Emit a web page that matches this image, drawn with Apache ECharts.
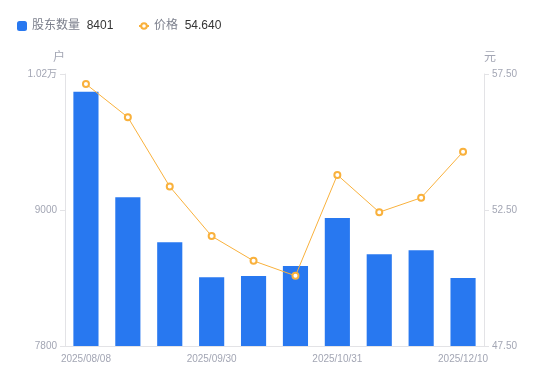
<!DOCTYPE html>
<html>
<head>
<meta charset="utf-8">
<script src="https://cdn.jsdelivr.net/npm/echarts@6/dist/echarts.min.js"></script>
<style>
html,body{margin:0;padding:0;background:#fff;}
#main{width:550px;height:381px;}
</style>
</head>
<body>
<div id="main"></div>
<script>
var categories = ['2025/08/08','2025/08/20','2025/08/29','2025/09/30','2025/10/10','2025/10/20','2025/10/31','2025/11/10','2025/11/20','2025/12/10'];
var holders = [10044, 9112, 8715, 8406, 8418, 8506, 8929, 8609, 8644, 8401];
var prices = [57.13, 55.91, 53.36, 51.54, 50.63, 50.08, 53.79, 52.42, 52.95, 54.64];
var leftTicks = [7800, 9000, 10200];
var rightTicks = [47.5, 52.5, 57.5];

var labelColor = '#a3a6b4';
var axisLineColor = '#e3e3e6';
var barColor = '#2878f0';
var lineColor = '#f9b13c';

var chart = echarts.init(document.getElementById('main'), null, {renderer: 'canvas'});
var lastHolder = holders[holders.length - 1];
var lastPrice = prices[prices.length - 1];

function legendFormatter(name) {
  var v = name === '股东数量' ? String(lastHolder) : lastPrice.toFixed(3);
  return '{n|' + name + '}  {v|' + v + '}';
}
var legendText = {
  rich: {
    n: {color: '#7b7f8c', fontSize: 12},
    v: {color: '#333333', fontSize: 12}
  }
};

chart.setOption({
  animation: false,
  textStyle: {fontFamily: 'Liberation Sans, Noto Sans CJK SC, sans-serif'},
  legend: [
    {
      left: 12,
      top: 15,
      itemWidth: 10,
      itemHeight: 10,
      data: [{name: '股东数量', icon: 'roundRect'}],
      formatter: legendFormatter,
      textStyle: legendText
    },
    {
      left: 133,
      top: 15,
      itemWidth: 10,
      itemHeight: 7,
      data: [{name: '价格', itemStyle: {borderWidth: 1.5}}],
      formatter: legendFormatter,
      textStyle: legendText
    }
  ],
  grid: {left: 65, right: 66, top: 74, bottom: 35, containLabel: false},
  xAxis: {
    type: 'category',
    data: categories,
    boundaryGap: true,
    axisLine: {lineStyle: {color: axisLineColor}},
    axisTick: {show: false},
    axisLabel: {color: labelColor, fontSize: 10, interval: 2, margin: 8}
  },
  yAxis: [
    {
      type: 'value',
      name: '户',
      nameLocation: 'end',
      nameGap: 10,
      nameTextStyle: {color: labelColor, fontSize: 12, padding: [0, 12, 0, 0]},
      min: leftTicks[0],
      max: leftTicks[leftTicks.length - 1],
      splitLine: {show: false},
      axisLine: {show: true, lineStyle: {color: axisLineColor}},
      axisTick: {show: true, length: 5, lineStyle: {color: axisLineColor}, customValues: leftTicks},
      axisLabel: {
        color: labelColor, fontSize: 10, customValues: leftTicks,
        formatter: function (v) { return v >= 10000 ? (v / 10000).toFixed(2) + '万' : String(v); }
      }
    },
    {
      type: 'value',
      name: '元',
      nameLocation: 'end',
      nameGap: 10,
      nameTextStyle: {color: labelColor, fontSize: 12, padding: [0, 0, 0, 12]},
      min: rightTicks[0],
      max: rightTicks[rightTicks.length - 1],
      splitLine: {show: false},
      axisLine: {show: true, lineStyle: {color: axisLineColor}},
      axisTick: {show: true, length: 5, lineStyle: {color: axisLineColor}, customValues: rightTicks},
      axisLabel: {
        color: labelColor, fontSize: 10, customValues: rightTicks,
        formatter: function (v) { return v.toFixed(2); }
      }
    }
  ],
  series: [
    {
      name: '股东数量',
      type: 'bar',
      yAxisIndex: 0,
      barWidth: '60%',
      itemStyle: {color: barColor},
      data: holders
    },
    {
      name: '价格',
      type: 'line',
      yAxisIndex: 1,
      symbol: 'emptyCircle',
      symbolSize: 6,
      lineStyle: {color: lineColor, width: 1},
      itemStyle: {color: lineColor, borderWidth: 2},
      data: prices
    }
  ]
});
</script>
</body>
</html>
